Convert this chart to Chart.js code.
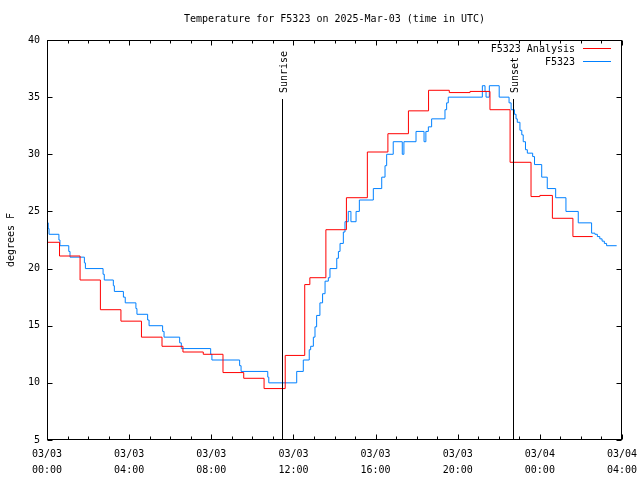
<!DOCTYPE html>
<html><head><meta charset="utf-8">
<script src="https://cdn.jsdelivr.net/npm/chart.js@4/dist/chart.umd.min.js"></script>
<style>html,body{margin:0;padding:0;background:#fff}#wrap{width:640px;height:480px}</style>
</head><body><div id="wrap"><canvas id="c" width="640" height="480"></canvas></div>
<script>
const titleText = 'Temperature for F5323 on 2025-Mar-03 (time in UTC)';
const yAxisLabel = 'degrees F';
const analysisLabel = 'F5323 Analysis';
const obsLabel = 'F5323';
const xTickLabels = [['03/03','00:00'],['03/03','04:00'],['03/03','08:00'],['03/03','12:00'],['03/03','16:00'],['03/03','20:00'],['03/04','00:00'],['03/04','04:00']];

// hours since 2025-03-03 00:00 UTC
const analysisHours = [0, 0.61, 1.61, 2.6, 3.6, 4.6, 5.6, 6.62, 7.61, 8.57, 9.58, 10.57, 11.6, 12.55, 12.8, 13.58, 14.58, 15.6, 16.6, 17.6, 18.58, 19.59, 20.6, 21.57, 22.55, 23.57, 24.0, 24.61, 25.61, 26.57];
const analysisTemps = [22.3, 21.1, 19.0, 16.4, 15.4, 14.0, 13.2, 12.7, 12.5, 10.9, 10.4, 9.5, 12.4, 18.6, 19.2, 23.4, 26.2, 30.2, 31.8, 33.8, 35.6, 35.4, 35.5, 33.9, 29.3, 26.3, 26.4, 24.4, 22.8, 22.8];

const obsHours = [0, 0.06, 0.1, 0.58, 0.63, 1.06, 1.12, 1.82, 1.87, 2.73, 2.79, 3.23, 3.28, 3.72, 3.81, 4.33, 4.38, 4.9, 4.97, 5.63, 5.7, 6.46, 6.54, 7.97, 8.03, 9.38, 9.45, 10.75, 10.8,
  12.16, 12.48, 12.77, 12.84, 12.97, 13.05, 13.13, 13.29, 13.42, 13.54, 13.7, 13.78, 14.11, 14.19, 14.27, 14.43, 14.51, 14.67, 14.8, 15.05, 15.21, 15.89, 16.3, 16.46, 16.54, 16.86, 17.3, 17.38, 17.97, 18.36, 18.45, 18.57, 18.73, 19.38, 19.46, 19.54,
  21.2, 21.33, 21.38, 21.54, 22.02, 22.5, 22.6, 22.76, 22.84, 22.9, 23.03, 23.12, 23.19, 23.3, 23.39, 23.65, 23.74, 24.09, 24.36, 24.77, 25.27, 25.87, 26.52, 26.68, 26.8, 26.92, 27.03, 27.14, 27.25, 27.74];
const obsTemps = [24, 23.5, 23, 22.5, 22, 21.5, 21, 20.5, 20, 19.5, 19, 18.5, 18, 17.5, 17, 16.5, 16, 15.5, 15, 14.5, 14, 13.5, 13, 12.5, 12, 11.5, 11, 10.5, 10,
  11, 12, 12.9, 13.2, 14, 14.9, 15.9, 17, 17.8, 18.9, 19.2, 20, 20.9, 21.5, 22.2, 23.2, 24.1, 25, 24.1, 25, 26, 27, 28, 29, 30, 31.1, 30, 31.1, 32, 31.1, 32, 32.4, 33.1, 33.9, 34.5, 35,
  36, 35.5, 35, 36, 35, 34.5, 33.9, 33.5, 33.1, 32.8, 32.1, 31.7, 31.1, 30.4, 30.1, 29.8, 29.1, 28, 27, 26.2, 25, 24, 23.1, 23, 22.8, 22.6, 22.4, 22.2, 22, 22];

const sunriseHour = 11.46;
const sunsetHour = 22.71;
const sunLineTop = 34.85;

const FONT = 'DejaVu Sans Mono';
Chart.defaults.font.family = FONT;
Chart.defaults.font.size = 10;
Chart.defaults.color = '#000';

const gnuDecor = {
  id: 'gnuDecor',
  afterDatasetsDraw(chart) {
    const {ctx, chartArea: a, scales: {x, y}} = chart;
    ctx.save();
    ctx.strokeStyle = '#000';
    ctx.lineWidth = 1;
    const L = Math.round(a.left) + 0.5, R = Math.round(a.right) - 0.5, T = Math.round(a.top) + 0.5, B = Math.round(a.bottom) - 0.5;
    ctx.strokeRect(L, T, R - L, B - T);
    ctx.beginPath();
    for (let h = x.min; h <= x.max; h++) {
      const px = Math.round(x.getPixelForValue(h)) + 0.5;
      const len = h % 4 === 0 ? 5 : 3;
      ctx.moveTo(px, B); ctx.lineTo(px, B - len);
      ctx.moveTo(px, T); ctx.lineTo(px, T + len);
    }
    for (let v = y.min; v <= y.max; v += 5) {
      const py = Math.round(y.getPixelForValue(v)) + 0.5;
      ctx.moveTo(L, py); ctx.lineTo(L + 5, py);
      ctx.moveTo(R, py); ctx.lineTo(R - 5, py);
    }
    ctx.stroke();

    // sunrise / sunset markers
    ctx.font = '10px "' + FONT + '"';
    ctx.fillStyle = '#000';
    [[sunriseHour, 'Sunrise'], [sunsetHour, 'Sunset']].forEach(([h, label]) => {
      const px = Math.round(x.getPixelForValue(h)) + 0.5;
      const top = Math.round(y.getPixelForValue(sunLineTop));
      ctx.beginPath();
      ctx.moveTo(px, top); ctx.lineTo(px, B);
      ctx.stroke();
      ctx.save();
      ctx.translate(px + 1.5, top - 6);
      ctx.rotate(-Math.PI / 2);
      ctx.textAlign = 'left';
      ctx.textBaseline = 'middle';
      ctx.fillText(label, 0, 0);
      ctx.restore();
    });

    // legend (gnuplot style: text then sample line)
    const items = [[analysisLabel, chart.data.datasets[0].borderColor], [obsLabel, chart.data.datasets[1].borderColor]];
    items.forEach(([label, color], i) => {
      const cy = 49 + i * 13;
      ctx.textAlign = 'right';
      ctx.textBaseline = 'middle';
      ctx.fillStyle = '#000';
      ctx.fillText(label, 575, cy);
      ctx.strokeStyle = color;
      ctx.beginPath();
      ctx.moveTo(583, cy - 0.5); ctx.lineTo(611, cy - 0.5);
      ctx.stroke();
    });

    // title
    ctx.fillStyle = '#000';
    ctx.textAlign = 'center';
    ctx.textBaseline = 'middle';
    ctx.fillText(titleText, (a.left + a.right) / 2, 19);

    // y axis title
    ctx.save();
    ctx.translate(11, (a.top + a.bottom) / 2);
    ctx.rotate(-Math.PI / 2);
    ctx.textAlign = 'center';
    ctx.textBaseline = 'middle';
    ctx.fillText(yAxisLabel, 0, 0);
    ctx.restore();
    ctx.restore();
  }
};

new Chart(document.getElementById('c'), {
  type: 'line',
  data: {
    datasets: [
      {
        label: analysisLabel,
        data: analysisHours.map((h, i) => ({x: h, y: analysisTemps[i]})),
        borderColor: '#ff0000',
        borderWidth: 1,
        pointRadius: 0,
        stepped: true,
        fill: false
      },
      {
        label: obsLabel,
        data: obsHours.map((h, i) => ({x: h, y: obsTemps[i]})),
        borderColor: '#0080ff',
        borderWidth: 1,
        pointRadius: 0,
        stepped: true,
        fill: false
      }
    ]
  },
  options: {
    responsive: false,
    animation: false,
    devicePixelRatio: 1,
    layout: {padding: {top: 40, right: 18, left: 0, bottom: 0}},
    plugins: {legend: {display: false}, title: {display: false}, tooltip: {enabled: false}},
    scales: {
      x: {
        type: 'linear',
        min: 0, max: 28,
        grid: {display: false, drawTicks: false},
        border: {display: false},
        afterFit: s => { s.height = 40; s.paddingLeft = 0; s.paddingRight = 0; },
        ticks: {
          stepSize: 4,
          autoSkip: false,
          maxRotation: 0,
          padding: 6,
          font: {size: 10, lineHeight: 1.6},
          callback: v => xTickLabels[Math.round(v / 4)]
        }
      },
      y: {
        min: 5, max: 40,
        grid: {display: false, drawTicks: false},
        border: {display: false},
        afterFit: s => { s.width = 47; s.paddingTop = 0; s.paddingBottom = 0; },
        ticks: {stepSize: 5, padding: 7, font: {size: 10}}
      }
    }
  },
  plugins: [gnuDecor]
});
</script>
</body></html>
